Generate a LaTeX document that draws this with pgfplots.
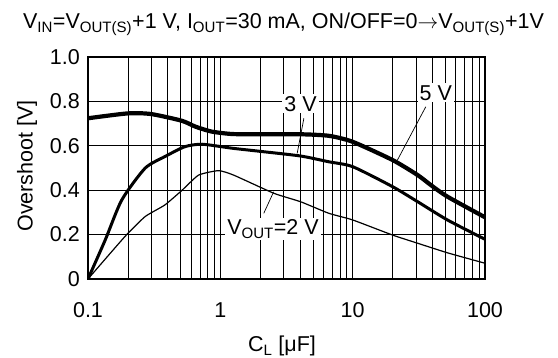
\documentclass[border=0pt]{standalone}
\usepackage{fontspec}
\setmainfont{Liberation Sans}
\usepackage{pgfplots}
\pgfplotsset{compat=1.18}
\begin{document}
\fontsize{21.5}{25}\selectfont
\begin{tikzpicture}[x=1pt,y=1pt]
\useasboundingbox (0,0) rectangle (558,358);
\begin{axis}[
  at={(88pt,79pt)}, anchor=south west,
  width=397pt, height=222pt, scale only axis,
  xmode=log, xmin=0.1, xmax=100, ymin=0, ymax=1,
  xtick={0.1,1,10,100}, xticklabels={0.1,1,10,100},
  minor xtick={0.2,0.3,0.4,0.5,0.6,0.7,0.8,0.9,2,3,4,5,6,7,8,9,20,30,40,50,60,70,80,90},
  ytick={0,0.2,0.4,0.6,0.8,1}, yticklabels={0,0.2,0.4,0.6,0.8,1.0},
  grid=both,
  major grid style={black, line width=0.7pt},
  minor grid style={black, line width=0.6pt},
  axis line style={line width=1.4pt},
  major tick length=0pt, minor tick length=0pt,
  tick label style={font=\fontsize{21.5}{25}\selectfont},
  /pgf/number format/assume math mode=true,
  xticklabel style={anchor=base, yshift=-39pt, inner sep=0pt},
  yticklabel style={anchor=east, inner sep=0pt, xshift=-8pt},
]
% 5 V
\addplot[black, line width=4.2pt, smooth, tension=0.4] coordinates {
(0.1,0.724) (0.2,0.746) (0.3,0.743) (0.51,0.713) (0.65,0.686) (0.86,0.664)
(1.23,0.653) (2,0.652) (4,0.652) (6.6,0.645) (10,0.618)
(20,0.536) (31,0.468) (39,0.423) (52,0.371) (100,0.278)};
% 3 V
\addplot[black, line width=3pt, smooth, tension=0.4] coordinates {
(0.1,0) (0.135,0.176) (0.18,0.356) (0.27,0.499) (0.38,0.551) (0.54,0.596)
(0.73,0.607) (1.23,0.589) (2,0.575) (4.04,0.554) (6.6,0.528) (10,0.506)
(20,0.416) (31,0.348) (52,0.266) (100,0.179)};
% 2 V
\addplot[black, line width=1.2pt, smooth, tension=0.3] coordinates {
(0.1,0) (0.19,0.191) (0.27,0.281) (0.38,0.333) (0.51,0.398) (0.685,0.468)
(0.97,0.488) (1.26,0.468) (2.54,0.386) (4.04,0.348) (6.6,0.296) (10,0.266)
(20,0.198) (31,0.161) (52,0.118) (100,0.071)};

\node[fill=white, inner sep=2pt] at (axis cs:4.04,0.79) {3 V};
\node[fill=white, inner sep=2pt] at (axis cs:42.5,0.838) {5 V};
\node[fill=white, inner sep=2pt] at (axis cs:2.5,0.225) {V\textsubscript{OUT}=2 V};
\draw[line width=0.7pt] (axis cs:4.28,0.724) -- (axis cs:3.81,0.566);
\draw[line width=0.7pt] (axis cs:35.7,0.776) -- (axis cs:21.8,0.536);
\draw[line width=0.7pt] (axis cs:2.13,0.296) -- (axis cs:2.53,0.393);
\end{axis}
\node[anchor=base] at (283.5,329) {V\textsubscript{IN}=V\textsubscript{OUT(S)}+1 V, I\textsubscript{OUT}=30 mA, ON/OFF=0$\rightarrow$V\textsubscript{OUT(S)}+1V};
\node[rotate=90] at (27,192) {Overshoot [V]};
\node[anchor=base] at (282,6) {C\textsubscript{L} [μF]};
\end{tikzpicture}
\end{document}
